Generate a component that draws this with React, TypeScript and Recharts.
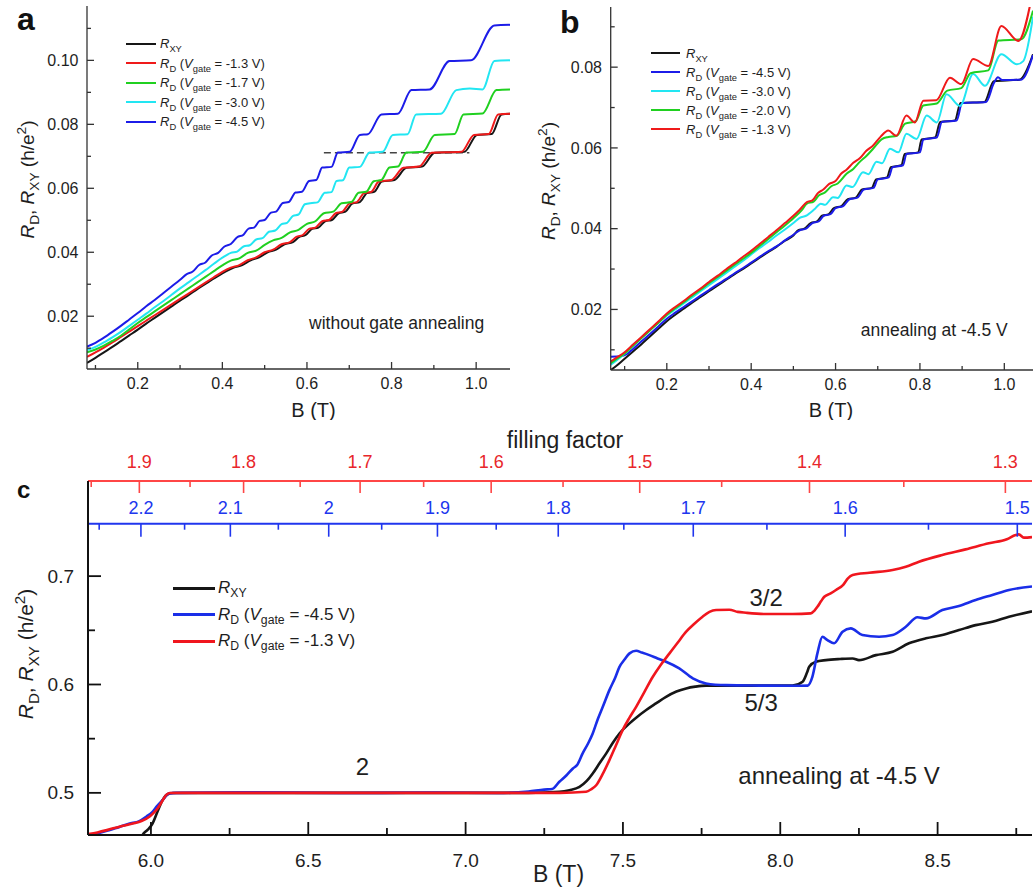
import React from 'react';
import { LineChart, Line, XAxis, YAxis, Legend, ReferenceLine, ReferenceDot } from 'recharts';

const FONT = '"Liberation Sans", Arial, Helvetica, sans-serif';
const INK = '#1e1e1e';

// ---------- panel a : without gate annealing (B in T, R in h/e^2) ----------
const aRxy: [number, number][] = [
  [0.08, 0.0054], [0.10, 0.0070], [0.12, 0.0087], [0.14, 0.0104], [0.16, 0.0122], [0.18, 0.0140], [0.20, 0.0158],
  [0.22, 0.0177], [0.24, 0.0195], [0.26, 0.0213], [0.28, 0.0231], [0.30, 0.0249], [0.32, 0.0266], [0.34, 0.0284],
  [0.36, 0.0301], [0.38, 0.0318], [0.40, 0.0334], [0.427, 0.0352], [0.447, 0.0360], [0.467, 0.0375], [0.487, 0.0384],
  [0.507, 0.0400], [0.527, 0.0408], [0.547, 0.0425], [0.567, 0.0432], [0.582, 0.0448], [0.597, 0.0454], [0.612, 0.0473],
  [0.627, 0.0477], [0.643, 0.0497], [0.659, 0.0501], [0.675, 0.0522], [0.691, 0.0527], [0.707, 0.0552], [0.725, 0.0557],
  [0.742, 0.0585], [0.759, 0.0589], [0.777, 0.0621], [0.807, 0.0626], [0.835, 0.0664], [0.872, 0.0668], [0.902, 0.0711],
  [0.972, 0.0714], [1.002, 0.0767], [1.037, 0.0770], [1.06, 0.0831], [1.08, 0.0833],
];
const aRd13: [number, number][] = [
  [0.08, 0.0073], [0.10, 0.0087], [0.12, 0.0102], [0.14, 0.0118], [0.16, 0.0135], [0.18, 0.0152], [0.20, 0.0169],
  [0.22, 0.0186], [0.24, 0.0203], [0.26, 0.0220], [0.28, 0.0237], [0.30, 0.0254], [0.32, 0.0271], [0.34, 0.0288],
  [0.36, 0.0305], [0.38, 0.0322], [0.40, 0.0339], [0.42, 0.0352], [0.44, 0.0360], [0.46, 0.0375], [0.48, 0.0384],
  [0.50, 0.0400], [0.52, 0.0408], [0.54, 0.0425], [0.56, 0.0432], [0.575, 0.0448], [0.59, 0.0454], [0.605, 0.0473],
  [0.62, 0.0477], [0.636, 0.0497], [0.652, 0.0501], [0.668, 0.0522], [0.684, 0.0527], [0.70, 0.0552], [0.718, 0.0557],
  [0.735, 0.0585], [0.752, 0.0589], [0.77, 0.0621], [0.80, 0.0626], [0.828, 0.0664], [0.865, 0.0668], [0.895, 0.0711],
  [0.965, 0.0714], [0.995, 0.0767], [1.03, 0.0770], [1.052, 0.0831], [1.08, 0.0833],
];
const aRd17: [number, number][] = [
  [0.08, 0.0087], [0.10, 0.0096], [0.12, 0.0108], [0.14, 0.0123], [0.16, 0.0139], [0.18, 0.0159], [0.20, 0.0179],
  [0.22, 0.0197], [0.24, 0.0215], [0.26, 0.0233], [0.28, 0.0251], [0.30, 0.0269], [0.32, 0.0287], [0.34, 0.0305],
  [0.36, 0.0323], [0.38, 0.0341], [0.40, 0.0359], [0.42, 0.0374], [0.44, 0.0381], [0.46, 0.0398], [0.48, 0.0405],
  [0.50, 0.0423], [0.52, 0.0437], [0.54, 0.0445], [0.56, 0.0462], [0.58, 0.0470], [0.60, 0.0489], [0.62, 0.0497],
  [0.64, 0.0522], [0.662, 0.0527], [0.682, 0.0553], [0.705, 0.0557], [0.722, 0.0586], [0.74, 0.0589], [0.758, 0.0622],
  [0.776, 0.0626], [0.795, 0.0665], [0.815, 0.0668], [0.835, 0.0712], [0.874, 0.0714], [0.902, 0.0767], [0.949, 0.0770],
  [0.97, 0.0831], [1.015, 0.0834], [1.048, 0.0907], [1.08, 0.0909],
];
const aRd30: [number, number][] = [
  [0.08, 0.0094], [0.10, 0.0104], [0.12, 0.0118], [0.14, 0.0134], [0.16, 0.0151], [0.18, 0.0170], [0.20, 0.0189],
  [0.22, 0.0208], [0.24, 0.0228], [0.26, 0.0247], [0.28, 0.0267], [0.30, 0.0287], [0.32, 0.0306], [0.34, 0.0325],
  [0.36, 0.0344], [0.38, 0.0364], [0.40, 0.0383], [0.42, 0.0398], [0.435, 0.0402], [0.45, 0.0418], [0.465, 0.0422],
  [0.48, 0.0440], [0.495, 0.0444], [0.51, 0.0464], [0.525, 0.0468], [0.54, 0.0488], [0.553, 0.0492], [0.567, 0.0514],
  [0.58, 0.0518], [0.595, 0.0550], [0.612, 0.0554], [0.625, 0.0556], [0.642, 0.0586], [0.658, 0.0588], [0.670, 0.0623],
  [0.685, 0.0625], [0.700, 0.0665], [0.725, 0.0667], [0.748, 0.0712], [0.779, 0.0714], [0.803, 0.0767], [0.838, 0.0769],
  [0.858, 0.0831], [0.917, 0.0833], [0.953, 0.0907], [0.985, 0.0912], [1.015, 0.0909], [1.043, 0.0998], [1.08, 0.1000],
];
const aRd45: [number, number][] = [
  [0.08, 0.0105], [0.10, 0.0117], [0.12, 0.0133], [0.14, 0.0151], [0.16, 0.0170], [0.18, 0.0190], [0.20, 0.0210],
  [0.22, 0.0231], [0.24, 0.0251], [0.26, 0.0272], [0.28, 0.0293], [0.30, 0.0314], [0.315, 0.0331], [0.33, 0.0340],
  [0.345, 0.0360], [0.36, 0.0368], [0.375, 0.0390], [0.39, 0.0398], [0.405, 0.0418], [0.42, 0.0426], [0.435, 0.0447],
  [0.45, 0.0455], [0.462, 0.0474], [0.475, 0.0477], [0.488, 0.0498], [0.50, 0.0501], [0.515, 0.0524], [0.527, 0.0527],
  [0.543, 0.0554], [0.557, 0.0557], [0.573, 0.0587], [0.588, 0.0589], [0.605, 0.0623], [0.622, 0.0626], [0.636, 0.0665],
  [0.658, 0.0667], [0.673, 0.0712], [0.701, 0.0714], [0.725, 0.0767], [0.744, 0.0769], [0.776, 0.0831], [0.815, 0.0833],
  [0.847, 0.0907], [0.89, 0.0909], [0.937, 0.0998], [0.988, 0.1000], [1.043, 0.1109], [1.08, 0.1111],
];

// ---------- panel b : annealing at -4.5 V ----------
const bRxy: [number, number][] = [
  [0.067, 0.0050], [0.08, 0.0060], [0.10, 0.0078], [0.12, 0.0096], [0.14, 0.0114], [0.16, 0.0133], [0.18, 0.0152],
  [0.20, 0.0171], [0.22, 0.0187], [0.24, 0.0202], [0.26, 0.0217], [0.28, 0.0231], [0.30, 0.0245], [0.32, 0.0259],
  [0.34, 0.0273], [0.36, 0.0287], [0.38, 0.0300], [0.40, 0.0314], [0.42, 0.0328], [0.44, 0.0342], [0.46, 0.0355],
  [0.48, 0.0370], [0.50, 0.0383], [0.511, 0.0396], [0.526, 0.0400], [0.541, 0.0414], [0.556, 0.0418], [0.568, 0.0432],
  [0.584, 0.0436], [0.596, 0.0451], [0.614, 0.0456], [0.629, 0.0473], [0.648, 0.0477], [0.663, 0.0497], [0.686, 0.0501],
  [0.696, 0.0522], [0.722, 0.0527], [0.731, 0.0552], [0.756, 0.0557], [0.764, 0.0585], [0.796, 0.0589], [0.804, 0.0621],
  [0.836, 0.0626], [0.848, 0.0664], [0.883, 0.0668], [0.896, 0.0711], [0.953, 0.0714], [0.975, 0.0765], [1.036, 0.0769],
  [1.068, 0.0832],
];
const bRd45: [number, number][] = [
  [0.067, 0.0083], [0.09, 0.0084], [0.105, 0.0089], [0.12, 0.0102], [0.14, 0.0121], [0.16, 0.0139], [0.18, 0.0158],
  [0.20, 0.0177], [0.22, 0.0192], [0.24, 0.0206], [0.26, 0.0220], [0.28, 0.0234], [0.30, 0.0248], [0.32, 0.0262],
  [0.34, 0.0275], [0.36, 0.0289], [0.38, 0.0302], [0.40, 0.0316], [0.42, 0.0330], [0.44, 0.0344], [0.46, 0.0356],
  [0.48, 0.0371], [0.50, 0.0385], [0.515, 0.0396], [0.53, 0.0400], [0.545, 0.0414], [0.56, 0.0418], [0.572, 0.0432],
  [0.588, 0.0436], [0.60, 0.0451], [0.618, 0.0456], [0.633, 0.0473], [0.652, 0.0477], [0.667, 0.0497], [0.69, 0.0501],
  [0.70, 0.0522], [0.726, 0.0527], [0.735, 0.0552], [0.76, 0.0557], [0.768, 0.0585], [0.80, 0.0589], [0.808, 0.0621],
  [0.84, 0.0626], [0.852, 0.0664], [0.887, 0.0668], [0.90, 0.0711], [0.957, 0.0714], [0.975, 0.0760], [0.985, 0.0775],
  [0.995, 0.0768], [1.04, 0.0769], [1.068, 0.0830],
];
const bRd30: [number, number][] = [
  [0.067, 0.0063], [0.08, 0.0073], [0.10, 0.0090], [0.12, 0.0110], [0.14, 0.0130], [0.16, 0.0149], [0.18, 0.0167],
  [0.20, 0.0185], [0.22, 0.0200], [0.24, 0.0215], [0.26, 0.0230], [0.28, 0.0245], [0.30, 0.0260], [0.32, 0.0275],
  [0.34, 0.0290], [0.36, 0.0305], [0.38, 0.0320], [0.40, 0.0336], [0.42, 0.0352], [0.44, 0.0367], [0.46, 0.0383],
  [0.48, 0.0398], [0.50, 0.0414], [0.515, 0.0427], [0.53, 0.0432], [0.55, 0.0448], [0.565, 0.0462], [0.575, 0.0459],
  [0.594, 0.0478], [0.605, 0.0476], [0.626, 0.0507], [0.64, 0.0503], [0.665, 0.0540], [0.678, 0.0535], [0.697, 0.0566],
  [0.71, 0.0562], [0.729, 0.0598], [0.749, 0.0589], [0.768, 0.0635], [0.792, 0.0622], [0.816, 0.0680], [0.84, 0.0663],
  [0.863, 0.0733], [0.895, 0.0704], [0.926, 0.0783], [0.954, 0.0754], [0.993, 0.0832], [1.03, 0.0807], [1.045, 0.0815],
  [1.068, 0.0925],
];
const bRd20: [number, number][] = [
  [0.067, 0.0067], [0.08, 0.0077], [0.10, 0.0091], [0.12, 0.0110], [0.14, 0.0129], [0.16, 0.0148], [0.18, 0.0167],
  [0.20, 0.0187], [0.22, 0.0203], [0.24, 0.0218], [0.26, 0.0234], [0.28, 0.0249], [0.30, 0.0265], [0.32, 0.0280],
  [0.34, 0.0295], [0.36, 0.0310], [0.38, 0.0325], [0.40, 0.0340], [0.42, 0.0357], [0.44, 0.0374], [0.46, 0.0391],
  [0.48, 0.0408], [0.50, 0.0426], [0.52, 0.0446], [0.532, 0.0462], [0.548, 0.0467], [0.56, 0.0482], [0.575, 0.0490],
  [0.59, 0.0505], [0.605, 0.0512], [0.626, 0.0536], [0.642, 0.0548], [0.658, 0.0566], [0.673, 0.0580], [0.689, 0.0598],
  [0.71, 0.0622], [0.725, 0.0627], [0.745, 0.0630], [0.765, 0.0660], [0.79, 0.0666], [0.808, 0.0705], [0.84, 0.0710],
  [0.865, 0.0742], [0.898, 0.0748], [0.92, 0.0785], [0.962, 0.0792], [0.986, 0.0866], [1.04, 0.0869], [1.068, 0.0940],
];
const bRd13: [number, number][] = [
  [0.067, 0.0071], [0.08, 0.0080], [0.10, 0.0094], [0.12, 0.0113], [0.14, 0.0132], [0.16, 0.0151], [0.18, 0.0170],
  [0.20, 0.0190], [0.22, 0.0206], [0.24, 0.0221], [0.26, 0.0237], [0.28, 0.0252], [0.30, 0.0268], [0.32, 0.0283],
  [0.34, 0.0299], [0.36, 0.0314], [0.38, 0.0330], [0.40, 0.0345], [0.42, 0.0362], [0.44, 0.0379], [0.46, 0.0396],
  [0.48, 0.0414], [0.50, 0.0432], [0.515, 0.0447], [0.532, 0.0466], [0.545, 0.0470], [0.558, 0.0488], [0.571, 0.0497],
  [0.585, 0.0511], [0.60, 0.0518], [0.613, 0.0536], [0.626, 0.0546], [0.642, 0.0563], [0.658, 0.0575], [0.673, 0.0593],
  [0.689, 0.0606], [0.707, 0.0628], [0.725, 0.0643], [0.744, 0.0630], [0.768, 0.0680], [0.788, 0.0663], [0.808, 0.0717],
  [0.839, 0.0718], [0.871, 0.0774], [0.898, 0.0758], [0.926, 0.0820], [0.962, 0.0803], [0.993, 0.0902], [1.033, 0.0865],
  [1.068, 0.0990],
];

// ---------- panel c : high field, annealing at -4.5 V ----------
const cRxy: [number, number][] = [
  [5.962, 0.452], [5.973, 0.461], [5.99, 0.466], [6.005, 0.4717], [6.02, 0.482], [6.037, 0.4933], [6.052, 0.4985],
  [6.07, 0.4998], [6.3, 0.5], [6.8, 0.5], [7.2, 0.5], [7.298, 0.501], [7.33, 0.5025], [7.362, 0.5055], [7.385, 0.511],
  [7.404, 0.5179], [7.425, 0.527], [7.447, 0.5364], [7.468, 0.5463], [7.489, 0.5548], [7.521, 0.5641], [7.545, 0.570],
  [7.574, 0.5764], [7.605, 0.5825], [7.637, 0.5886], [7.67, 0.5935], [7.701, 0.5964], [7.73, 0.598], [7.764, 0.599],
  [7.9, 0.599], [8.039, 0.599], [8.071, 0.6025], [8.085, 0.611], [8.092, 0.6163], [8.113, 0.621], [8.145, 0.6225],
  [8.19, 0.6235], [8.23, 0.624], [8.25, 0.6225], [8.304, 0.6271], [8.357, 0.6302], [8.409, 0.638], [8.463, 0.6426],
  [8.515, 0.6456], [8.568, 0.6502], [8.621, 0.6548], [8.674, 0.6579], [8.727, 0.6625], [8.8, 0.6675],
];
const cRd45: [number, number][] = [
  [5.8, 0.460], [5.83, 0.4625], [5.86, 0.465], [5.9, 0.4685], [5.93, 0.4715], [5.963, 0.4739], [5.985, 0.478],
  [6.005, 0.4825], [6.02, 0.488], [6.037, 0.4933], [6.058, 0.4995], [6.08, 0.5], [6.3, 0.5005], [6.6, 0.4998],
  [6.9, 0.5003], [7.1, 0.4998], [7.2, 0.5012], [7.25, 0.503], [7.275, 0.5035], [7.298, 0.5102], [7.32, 0.516],
  [7.341, 0.5225], [7.355, 0.526], [7.372, 0.5364], [7.39, 0.546], [7.404, 0.5548], [7.42, 0.568], [7.436, 0.5794],
  [7.457, 0.5948], [7.475, 0.606], [7.489, 0.6163], [7.505, 0.623], [7.521, 0.6287], [7.542, 0.6311], [7.56, 0.6295],
  [7.584, 0.6271], [7.61, 0.624], [7.637, 0.621], [7.679, 0.6149], [7.722, 0.6056], [7.764, 0.601], [7.828, 0.5994],
  [7.933, 0.599], [8.039, 0.5988], [8.087, 0.599], [8.102, 0.6071], [8.118, 0.6287], [8.134, 0.644], [8.15, 0.641],
  [8.171, 0.638], [8.198, 0.6487], [8.224, 0.6518], [8.261, 0.6456], [8.314, 0.644], [8.357, 0.6456], [8.399, 0.6533],
  [8.436, 0.662], [8.463, 0.661], [8.515, 0.6687], [8.568, 0.6724], [8.621, 0.678], [8.674, 0.6826], [8.727, 0.6872],
  [8.8, 0.6905],
];
const cRd13: [number, number][] = [
  [5.8, 0.4619], [5.83, 0.4635], [5.86, 0.4656], [5.9, 0.4688], [5.942, 0.4717], [5.97, 0.474], [5.995, 0.478],
  [6.01, 0.482], [6.021, 0.4856], [6.035, 0.492], [6.048, 0.4979], [6.06, 0.4998], [6.1, 0.5], [7.0, 0.5], [7.3, 0.5],
  [7.383, 0.501], [7.40, 0.5035], [7.415, 0.507], [7.435, 0.517], [7.457, 0.5302], [7.478, 0.544], [7.499, 0.5579],
  [7.52, 0.569], [7.542, 0.5794], [7.568, 0.593], [7.595, 0.6071], [7.62, 0.618], [7.648, 0.6287], [7.675, 0.639],
  [7.701, 0.6487], [7.727, 0.656], [7.753, 0.6625], [7.775, 0.667], [7.796, 0.6687], [7.838, 0.669], [7.865, 0.667],
  [7.891, 0.6662], [7.955, 0.665], [8.039, 0.665], [8.097, 0.6656], [8.108, 0.668], [8.118, 0.6717], [8.13, 0.677],
  [8.14, 0.681], [8.16, 0.684], [8.177, 0.6872], [8.2, 0.692], [8.215, 0.698], [8.23, 0.701], [8.283, 0.7031],
  [8.357, 0.7056], [8.399, 0.7087], [8.441, 0.7133], [8.515, 0.7195], [8.589, 0.7247], [8.663, 0.7303], [8.72, 0.734],
  [8.748, 0.7379], [8.758, 0.7385], [8.774, 0.7355], [8.8, 0.736],
];

// ticks
const abXTicks = [0.1, 0.2, 0.3, 0.4, 0.5, 0.6, 0.7, 0.8, 0.9, 1.0];
const abXMajor = [0.2, 0.4, 0.6, 0.8, 1.0];
const aYTicks = [0.01, 0.02, 0.03, 0.04, 0.05, 0.06, 0.07, 0.08, 0.09, 0.1, 0.11];
const aYMajor = [0.02, 0.04, 0.06, 0.08, 0.1];
const bYTicks = [0.01, 0.02, 0.03, 0.04, 0.05, 0.06, 0.07, 0.08, 0.09];
const bYMajor = [0.02, 0.04, 0.06, 0.08];
const cXTicks = [6.0, 6.25, 6.5, 6.75, 7.0, 7.25, 7.5, 7.75, 8.0, 8.25, 8.5, 8.75];
const cXMajor = [6.0, 6.5, 7.0, 7.5, 8.0, 8.5];
const cYTicks = [0.5, 0.55, 0.6, 0.65, 0.7];
const cYMajor = [0.5, 0.6, 0.7];
// filling factor axes (nu = C / B)
const nuRed = [1.95, 1.9, 1.85, 1.8, 1.75, 1.7, 1.65, 1.6, 1.55, 1.5, 1.45, 1.4, 1.35, 1.3];
const nuBlue = [2.25, 2.2, 2.15, 2.1, 2.05, 2, 1.95, 1.9, 1.85, 1.8, 1.75, 1.7, 1.65, 1.6, 1.55, 1.5];
const C_RED = 11.33;
const C_BLUE = 13.13;

// legend order per panel
const orderA = ['RXY', '-1.3 V', '-1.7 V', '-3.0 V', '-4.5 V'];
const orderB = ['RXY', '-4.5 V', '-3.0 V', '-2.0 V', '-1.3 V'];
const orderC = ['RXY', '-4.5 V', '-1.3 V'];

const rows = (pts: [number, number][]) => pts.map(([b, v]) => ({ b, v }));

const BLK = '#161616';
const RED = '#ef1a1a';
const GRN = '#20d020';
const CYN = '#22e6f2';
const BLU = '#1c1ce8';
const AXC = '#333';

type Side = 'bottom' | 'top' | 'left' | 'right';
interface TickCfg {
  side: Side;
  isMajor: (v: number) => boolean;
  len: number;
  minLen: number;
  color: string;
  sw: number;
  label?: (v: number) => string;
  fs?: number;
  gap?: number;
  textColor?: string;
}
const inList = (list: number[]) => (v: number) => list.some((m) => Math.abs(m - v) < 1e-9);

const tickFn = (cfg: TickCfg) => (props: any) => {
  const { x, y, payload } = props;
  const v = payload.value as number;
  const major = cfg.isMajor(v);
  const L = major ? cfg.len : cfg.minLen;
  const fs = cfg.fs || 16;
  const gap = cfg.gap || 0;
  const lbl = major && cfg.label ? cfg.label(v) : null;
  let x2 = x;
  let y2 = y;
  let text: React.ReactNode = null;
  const tp = { fontSize: fs, fill: cfg.textColor || INK, fontFamily: FONT };
  if (cfg.side === 'bottom') {
    y2 = y - L;
    if (lbl) text = <text x={x} y={y + gap} textAnchor="middle" {...tp}>{lbl}</text>;
  } else if (cfg.side === 'top') {
    y2 = y + L;
    if (lbl) text = <text x={x} y={y - gap} textAnchor="middle" {...tp}>{lbl}</text>;
  } else if (cfg.side === 'left') {
    x2 = x + L;
    if (lbl) text = <text x={x - gap} y={y + fs * 0.35} textAnchor="end" {...tp}>{lbl}</text>;
  } else {
    x2 = x - L;
  }
  return (
    <g>
      <line x1={x} y1={y} x2={x2} y2={y2} stroke={cfg.color} strokeWidth={cfg.sw} />
      {text}
    </g>
  );
};

const xTitle = (text: string, dx: number, dy: number, fs: number) => (p: any) => {
  const vb = p.viewBox || { x: 0, y: 0, width: 0, height: 0 };
  return (
    <text x={vb.x + vb.width / 2 + dx} y={vb.y + dy} textAnchor="middle" fontSize={fs} fill={INK} fontFamily={FONT}>
      {text}
    </text>
  );
};

const yTitle = (dx: number, dy: number, fs: number) => (p: any) => {
  const vb = p.viewBox || { x: 0, y: 0, width: 0, height: 0 };
  const cx = vb.x + dx;
  const cy = vb.y + vb.height / 2 + dy;
  const s = fs * 0.72;
  const d = fs * 0.28;
  const u = fs * 0.4;
  return (
    <text transform={`translate(${cx},${cy}) rotate(-90)`} x={0} y={fs * 0.35} textAnchor="middle" fontSize={fs} fill={INK} fontFamily={FONT}>
      <tspan fontStyle="italic">R</tspan>
      <tspan fontSize={s} dy={d}>D</tspan>
      <tspan dy={-d}>, </tspan>
      <tspan fontStyle="italic">R</tspan>
      <tspan fontSize={s} dy={d}>XY</tspan>
      <tspan dy={-d}> (h/e</tspan>
      <tspan fontSize={s} dy={-u}>2</tspan>
      <tspan dy={u}>)</tspan>
    </text>
  );
};

const SeriesName = ({ name, fs }: { name: string; fs: number }) => {
  const sub: React.CSSProperties = { fontSize: fs * 0.72, verticalAlign: 'sub', lineHeight: 0 };
  if (name === 'RXY') {
    return (
      <span><i>R</i><span style={sub}>XY</span></span>
    );
  }
  return (
    <span><i>R</i><span style={sub}>D</span> (<i>V</i><span style={sub}>gate</span> = {name})</span>
  );
};

const legendContent = (fs: number, rowH: number, lineLen: number, gap: number, lw: number) => (props: any) => (
  <div style={{ fontFamily: FONT, fontSize: fs, color: INK }}>
    {(props.payload || []).map((e: any) => (
      <div key={e.value} style={{ display: 'flex', alignItems: 'center', height: rowH, whiteSpace: 'nowrap' }}>
        <span style={{ display: 'inline-block', width: lineLen, borderTop: `${lw}px solid ${e.color}`, marginRight: gap }} />
        <SeriesName name={e.value} fs={fs} />
      </div>
    ))}
  </div>
);

const sorter = (order: string[]) => (item: any) => order.indexOf(item.value);

const note = (value: string, fs: number) => ({ value, position: 'center' as const, fontSize: fs, fill: INK, fontFamily: FONT });

const abAxisLine = { stroke: AXC, strokeWidth: 1.3 };

const PanelA = () => (
  <LineChart width={520} height={420} margin={{ top: 6, right: 10, bottom: 0, left: 0 }} data={rows(aRxy)}>
    <XAxis dataKey="b" type="number" domain={[0.08, 1.08]} allowDataOverflow ticks={abXTicks} interval={0} height={51}
      tickSize={0} tickMargin={0} tickLine={false} axisLine={abAxisLine}
      tick={tickFn({ side: 'bottom', isMajor: inList(abXMajor), len: 7, minLen: 4, color: AXC, sw: 1.3, label: (v) => v.toFixed(1), fs: 16, gap: 20 })}
      label={xTitle('B (T)', 15, 47.5, 20)} />
    <XAxis xAxisId="top" dataKey="b" orientation="top" type="number" domain={[0.08, 1.08]} allowDataOverflow ticks={abXTicks} interval={0}
      height={0} tickSize={0} tickMargin={0} tickLine={false} axisLine={abAxisLine}
      tick={tickFn({ side: 'top', isMajor: inList(abXMajor), len: 7, minLen: 4, color: AXC, sw: 1.3 })} />
    <YAxis dataKey="v" type="number" domain={[0.0035, 0.117]} allowDataOverflow ticks={aYTicks} interval={0} width={87}
      tickSize={0} tickMargin={0} tickLine={false} axisLine={abAxisLine}
      tick={tickFn({ side: 'left', isMajor: inList(aYMajor), len: 7, minLen: 4, color: AXC, sw: 1.3, label: (v) => v.toFixed(2), fs: 16, gap: 8.5 })}
      label={yTitle(27, -8, 19)} />
    <YAxis yAxisId="right" dataKey="v" orientation="right" type="number" domain={[0.0035, 0.117]} allowDataOverflow ticks={aYTicks} interval={0}
      width={0} tickSize={0} tickMargin={0} tickLine={false} axisLine={abAxisLine}
      tick={tickFn({ side: 'right', isMajor: inList(aYMajor), len: 7, minLen: 4, color: AXC, sw: 1.3 })} />
    <ReferenceLine segment={[{ x: 0.64, y: 0.0711 }, { x: 0.984, y: 0.0711 }]} stroke="#444" strokeWidth={1.5} strokeDasharray="7 4" />
    <Line data={rows(aRxy)} dataKey="v" name="RXY" type="monotone" stroke={BLK} strokeWidth={2} dot={false} activeDot={false} isAnimationActive={false} />
    <Line data={rows(aRd13)} dataKey="v" name="-1.3 V" type="monotone" stroke={RED} strokeWidth={2} dot={false} activeDot={false} isAnimationActive={false} />
    <Line data={rows(aRd17)} dataKey="v" name="-1.7 V" type="monotone" stroke={GRN} strokeWidth={2} dot={false} activeDot={false} isAnimationActive={false} />
    <Line data={rows(aRd30)} dataKey="v" name="-3.0 V" type="monotone" stroke={CYN} strokeWidth={2} dot={false} activeDot={false} isAnimationActive={false} />
    <Line data={rows(aRd45)} dataKey="v" name="-4.5 V" type="monotone" stroke={BLU} strokeWidth={2} dot={false} activeDot={false} isAnimationActive={false} />
    <ReferenceDot x={0.812} y={0.0178} r={0} fill="none" stroke="none" label={note('without gate annealing', 17.5)} />
    <Legend layout="vertical" align="center" verticalAlign="middle" wrapperStyle={{ left: 126, top: 34, width: 'auto' }}
      itemSorter={sorter(orderA)} content={legendContent(13, 19.5, 30, 4, 2)} />
  </LineChart>
);

const PanelB = () => (
  <LineChart width={514} height={420} margin={{ top: 7, right: 1, bottom: 0, left: 0 }} data={rows(bRxy)}>
    <XAxis dataKey="b" type="number" domain={[0.067, 1.068]} allowDataOverflow ticks={abXTicks} interval={0} height={50}
      tickSize={0} tickMargin={0} tickLine={false} axisLine={abAxisLine}
      tick={tickFn({ side: 'bottom', isMajor: inList(abXMajor), len: 7, minLen: 4, color: AXC, sw: 1.3, label: (v) => v.toFixed(1), fs: 16, gap: 20 })}
      label={xTitle('B (T)', 9, 46.5, 20)} />
    <XAxis xAxisId="top" dataKey="b" orientation="top" type="number" domain={[0.067, 1.068]} allowDataOverflow ticks={abXTicks} interval={0}
      height={0} tickSize={0} tickMargin={0} tickLine={false} axisLine={abAxisLine}
      tick={tickFn({ side: 'top', isMajor: inList(abXMajor), len: 7, minLen: 4, color: AXC, sw: 1.3 })} />
    <YAxis dataKey="v" type="number" domain={[0.005, 0.0949]} allowDataOverflow ticks={bYTicks} interval={0} width={90.7}
      tickSize={0} tickMargin={0} tickLine={false} axisLine={abAxisLine}
      tick={tickFn({ side: 'left', isMajor: inList(bYMajor), len: 7, minLen: 4, color: AXC, sw: 1.3, label: (v) => v.toFixed(2), fs: 16, gap: 8.7 })}
      label={yTitle(28, -7.5, 19)} />
    <YAxis yAxisId="right" dataKey="v" orientation="right" type="number" domain={[0.005, 0.0949]} allowDataOverflow ticks={bYTicks} interval={0}
      width={0} tickSize={0} tickMargin={0} tickLine={false} axisLine={abAxisLine}
      tick={tickFn({ side: 'right', isMajor: inList(bYMajor), len: 7, minLen: 4, color: AXC, sw: 1.3 })} />
    <Line data={rows(bRxy)} dataKey="v" name="RXY" type="monotone" stroke={BLK} strokeWidth={2} dot={false} activeDot={false} isAnimationActive={false} />
    <Line data={rows(bRd45)} dataKey="v" name="-4.5 V" type="monotone" stroke={BLU} strokeWidth={2} dot={false} activeDot={false} isAnimationActive={false} />
    <Line data={rows(bRd30)} dataKey="v" name="-3.0 V" type="monotone" stroke={CYN} strokeWidth={2} dot={false} activeDot={false} isAnimationActive={false} />
    <Line data={rows(bRd20)} dataKey="v" name="-2.0 V" type="monotone" stroke={GRN} strokeWidth={2} dot={false} activeDot={false} isAnimationActive={false} />
    <Line data={rows(bRd13)} dataKey="v" name="-1.3 V" type="monotone" stroke={RED} strokeWidth={2} dot={false} activeDot={false} isAnimationActive={false} />
    <ReferenceDot x={0.834} y={0.0149} r={0} fill="none" stroke="none" label={note('annealing at -4.5 V', 17.5)} />
    <Legend layout="vertical" align="center" verticalAlign="middle" wrapperStyle={{ left: 131, top: 43.5, width: 'auto' }}
      itemSorter={sorter(orderB)} content={legendContent(13, 19, 29, 6, 2)} />
  </LineChart>
);

const nuTick = (C: number, color: string, textColor: string, len: number, minLen: number, gap: number) =>
  tickFn({
    side: 'top',
    isMajor: (v) => {
      const nu = C / v;
      return Math.abs(nu * 10 - Math.round(nu * 10)) < 1e-6;
    },
    len,
    minLen,
    color,
    sw: 1.6,
    label: (v) => String(+(C / v).toFixed(2)),
    fs: 18,
    gap,
    textColor,
  });

const cAxisLine = { stroke: '#111', strokeWidth: 2 };

const PanelC = () => (
  <LineChart width={1034} height={470} margin={{ top: 61, right: 2, bottom: 0, left: 0 }} data={rows(cRd13)}>
    <XAxis dataKey="b" type="number" domain={[5.8, 8.8]} allowDataOverflow ticks={cXTicks} interval={0} height={55}
      tickSize={0} tickMargin={0} tickLine={false} axisLine={cAxisLine}
      tick={tickFn({ side: 'bottom', isMajor: inList(cXMajor), len: 13, minLen: 7, color: '#111', sw: 1.8, label: (v) => v.toFixed(1), fs: 19, gap: 31.7 })}
      label={xTitle('B (T)', -1.5, 46.5, 23)} />
    <XAxis xAxisId="a_red" dataKey="b" orientation="top" mirror type="number" domain={[5.8, 8.8]} allowDataOverflow
      ticks={nuRed.map((n) => C_RED / n)} interval={0} height={42.7} tickSize={0} tickMargin={0} tickLine={false}
      axisLine={{ stroke: '#ff4646', strokeWidth: 2 }} tick={nuTick(C_RED, '#ff4646', '#e8262b', 12, 6, 12.7)}
      label={(p: any) => {
        const vb = p.viewBox || { x: 0, y: 0, width: 0 };
        return (
          <text x={vb.x + vb.width / 2 + 5} y={vb.y - 33} textAnchor="middle" fontSize={23} fill={INK} fontFamily={FONT}>
            filling factor
          </text>
        );
      }} />
    <XAxis xAxisId="b_blue" dataKey="b" orientation="top" mirror type="number" domain={[5.8, 8.8]} allowDataOverflow
      ticks={nuBlue.map((n) => C_BLUE / n)} interval={0} height={20} tickSize={0} tickMargin={0} tickLine={false}
      axisLine={{ stroke: '#2036ee', strokeWidth: 2 }} tick={nuTick(C_BLUE, '#2036ee', '#2036ee', 13, 6, 9.7)} />
    <YAxis dataKey="v" type="number" domain={[0.4611, 0.7878]} allowDataOverflow ticks={cYTicks} interval={0} width={88}
      tickSize={0} tickMargin={0} tickLine={false} axisLine={cAxisLine}
      tick={tickFn({ side: 'left', isMajor: inList(cYMajor), len: 13, minLen: 7, color: '#111', sw: 1.8, label: (v) => v.toFixed(1), fs: 19, gap: 14 })}
      label={yTitle(26, -4, 21)} />
    <YAxis yAxisId="right" dataKey="v" orientation="right" type="number" domain={[0.4611, 0.7878]} allowDataOverflow ticks={cYTicks} interval={0}
      width={0} tickSize={0} tickMargin={0} tickLine={false} axisLine={cAxisLine}
      tick={tickFn({ side: 'right', isMajor: inList(cYMajor), len: 13, minLen: 7, color: '#111', sw: 1.8 })} />
    <Line data={rows(cRxy)} dataKey="v" name="RXY" type="monotone" stroke={BLK} strokeWidth={2.6} dot={false} activeDot={false} isAnimationActive={false} />
    <Line data={rows(cRd45)} dataKey="v" name="-4.5 V" type="monotone" stroke="#1a2ee8" strokeWidth={2.6} dot={false} activeDot={false} isAnimationActive={false} />
    <Line data={rows(cRd13)} dataKey="v" name="-1.3 V" type="monotone" stroke="#f0161e" strokeWidth={2.6} dot={false} activeDot={false} isAnimationActive={false} />
    <ReferenceDot x={6.672} y={0.524} r={0} fill="none" stroke="none" label={note('2', 24)} />
    <ReferenceDot x={7.955} y={0.6804} r={0} fill="none" stroke="none" label={note('3/2', 24)} />
    <ReferenceDot x={7.939} y={0.5831} r={0} fill="none" stroke="none" label={note('5/3', 24)} />
    <ReferenceDot x={8.187} y={0.5163} r={0} fill="none" stroke="none" label={note('annealing at -4.5 V', 24)} />
    <Legend layout="vertical" align="center" verticalAlign="middle" wrapperStyle={{ left: 173, top: 155, width: 'auto' }}
      itemSorter={sorter(orderC)} content={legendContent(17, 26.5, 42, 3, 3)} />
  </LineChart>
);

const letter: React.CSSProperties = { position: 'absolute', fontFamily: FONT, fontWeight: 700, lineHeight: 1, color: '#111' };

export default function App() {
  return (
    <div style={{ position: 'absolute', left: 0, top: 0, width: 1034, height: 890, background: '#fff', overflow: 'hidden' }}>
      <div style={{ position: 'absolute', left: 0, top: 0 }}><PanelA /></div>
      <div style={{ position: 'absolute', left: 520, top: 0 }}><PanelB /></div>
      <div style={{ position: 'absolute', left: 0, top: 420 }}><PanelC /></div>
      <div style={{ ...letter, left: 17, top: 3, fontSize: 32 }}>a</div>
      <div style={{ ...letter, left: 560, top: 6, fontSize: 32 }}>b</div>
      <div style={{ ...letter, left: 17, top: 478, fontSize: 24 }}>c</div>
    </div>
  );
}
